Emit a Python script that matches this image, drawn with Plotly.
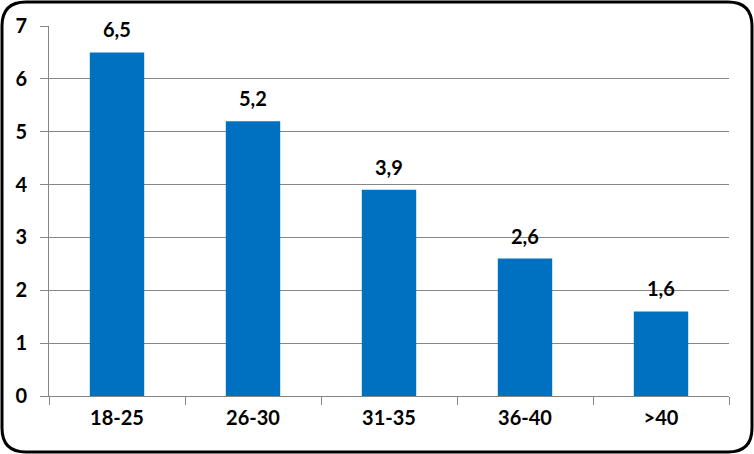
import plotly.graph_objects as go

# Dados
faixas = ['18-25', '26-30', '31-35', '36-40', '>40']
valores = [6.5, 5.2, 3.9, 2.6, 1.6]
rotulos = ['6,5', '5,2', '3,9', '2,6', '1,6']

AZUL = '#0070C0'
CINZA = '#868686'
FONTE = 'Lato'
TAM = 20

W, H = 754, 454
ML, MR, MT, MB = 49, 25, 26, 58


def px_para_paper(x, y):
    pw = W - ML - MR
    ph = H - MT - MB
    return (x - ML) / pw, (H - MB - y) / ph


def borda_arredondada(x0, y0, x1, y1, r):
    # caminho em pixels convertido para coordenadas "paper"
    pts = [
        ('M', [(x0 + r, y0)]),
        ('L', [(x1 - r, y0)]),
        ('Q', [(x1, y0), (x1, y0 + r)]),
        ('L', [(x1, y1 - r)]),
        ('Q', [(x1, y1), (x1 - r, y1)]),
        ('L', [(x0 + r, y1)]),
        ('Q', [(x0, y1), (x0, y1 - r)]),
        ('L', [(x0, y0 + r)]),
        ('Q', [(x0, y0), (x0 + r, y0)]),
    ]
    partes = []
    for cmd, coords in pts:
        c = ' '.join('%.5f,%.5f' % px_para_paper(x, y) for x, y in coords)
        partes.append(cmd + ' ' + c)
    return ' '.join(partes) + ' Z'


fig = go.Figure()

fig.add_trace(go.Bar(
    x=faixas,
    y=valores,
    marker=dict(color=AZUL, line=dict(width=0)),
    showlegend=False
))

# Rótulos de dados
for f, v, t in zip(faixas, valores, rotulos):
    fig.add_annotation(
        x=f, y=v, text=t, showarrow=False,
        yanchor='bottom', yshift=9,
        font=dict(family=FONTE, size=TAM, color='black', weight='bold')
    )

fig.update_layout(
    width=W, height=H,
    margin=dict(l=ML, r=MR, t=MT, b=MB, autoexpand=False),
    paper_bgcolor='white',
    plot_bgcolor='white',
    bargap=0.6,
    font=dict(family=FONTE, size=TAM, color='black', weight='bold'),
    xaxis=dict(
        type='category',
        tickson='boundaries',
        ticks='outside',
        ticklen=8,
        tickcolor=CINZA,
        showline=True,
        linecolor=CINZA,
        linewidth=1,
        showgrid=False,
        automargin=False,
        ticklabelstandoff=4,
        tickfont=dict(family=FONTE, size=TAM, color='black', weight='bold'),
    ),
    yaxis=dict(
        range=[0, 7],
        dtick=1,
        ticks='outside',
        ticklen=8,
        tickcolor=CINZA,
        showline=True,
        linecolor=CINZA,
        linewidth=1,
        showgrid=True,
        gridcolor=CINZA,
        gridwidth=1,
        zeroline=False,
        automargin=False,
        ticklabelstandoff=9,
        tickfont=dict(family=FONTE, size=TAM, color='black', weight='bold'),
    ),
    shapes=[dict(
        type='path',
        xref='paper', yref='paper',
        path=borda_arredondada(2, 2, 752, 452, 24),
        line=dict(color='black', width=3),
        layer='above'
    )]
)

# remove a margem padrão do body para a figura ocupar a janela inteira
fig.write_html(
    "out.html",
    config={'displayModeBar': False},
    post_script="document.body.style.margin='0';"
)
